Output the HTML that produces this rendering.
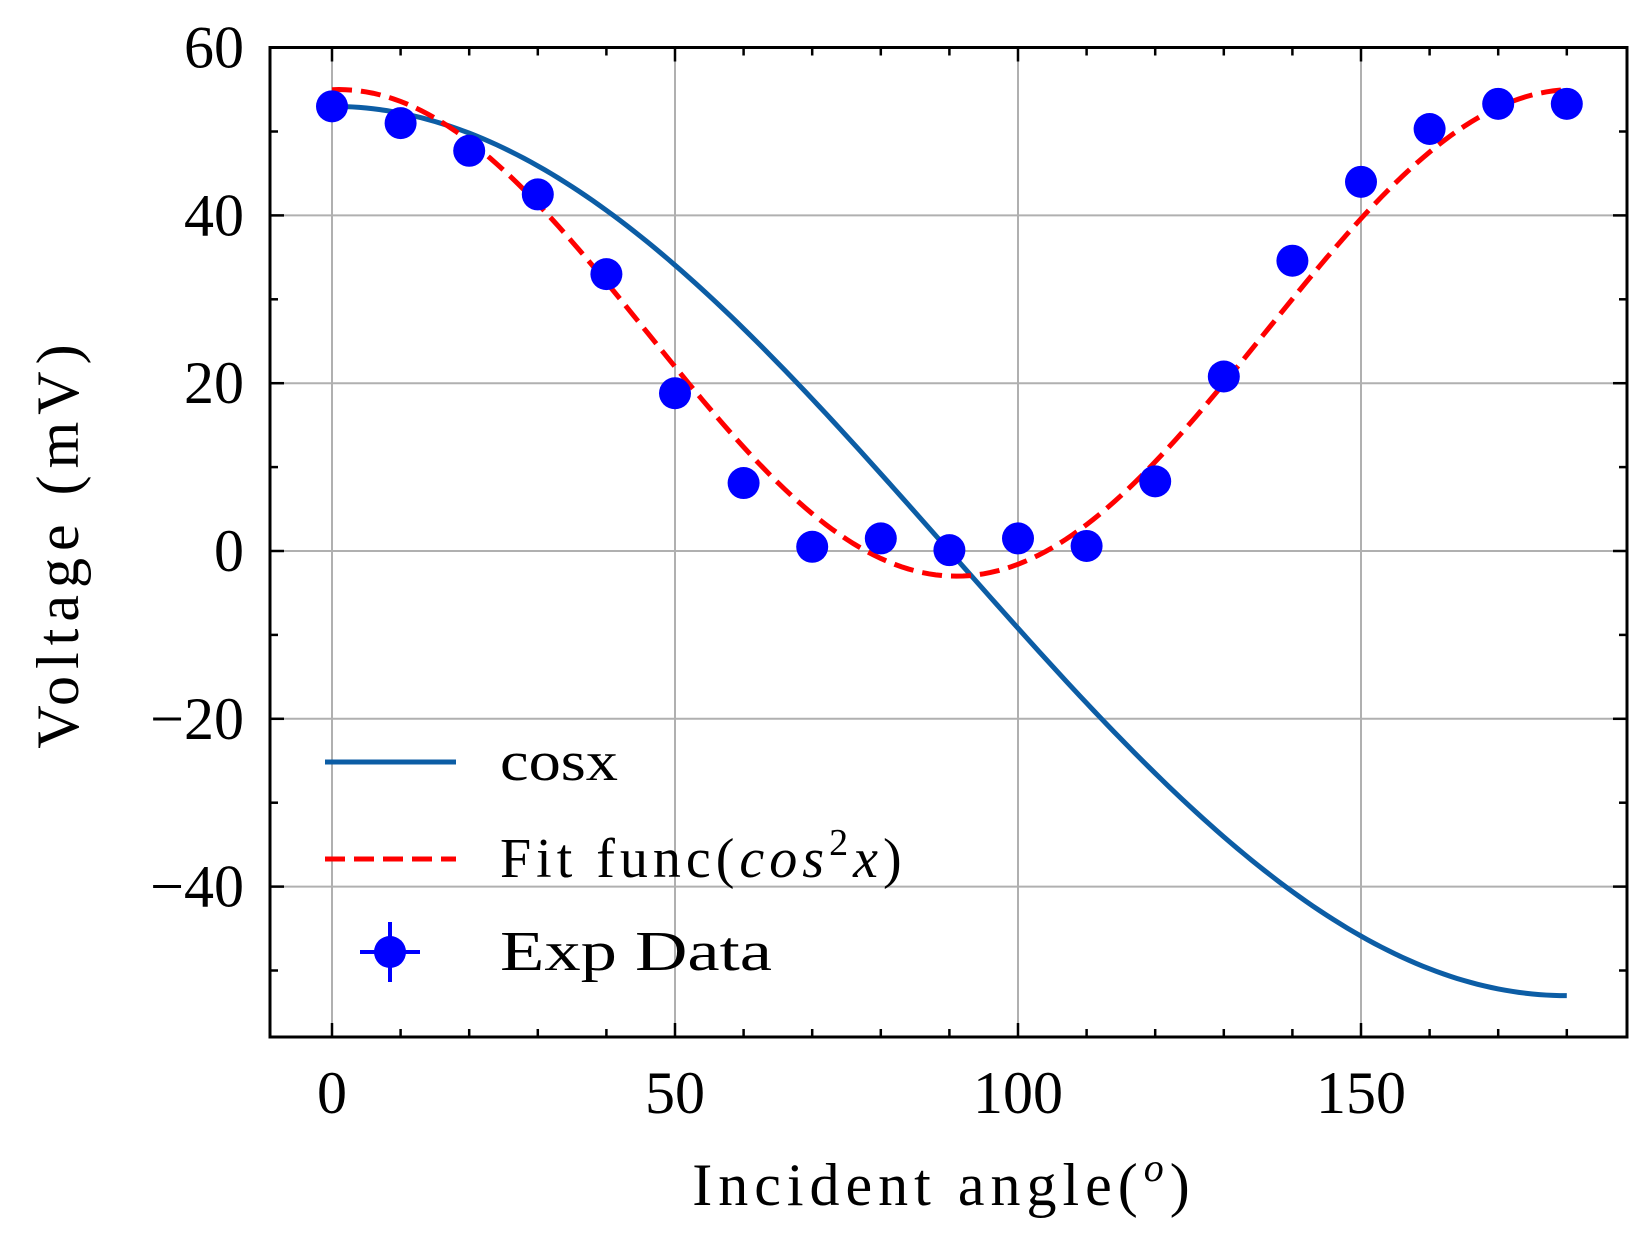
<!DOCTYPE html>
<html><head><meta charset="utf-8"><style>
html,body{margin:0;padding:0;background:#fff;}
svg text{font-family:"Liberation Serif","DejaVu Serif",serif;fill:#000;}
</style></head><body>
<svg id="chart" width="1650" height="1245" viewBox="0 0 1650 1245" xmlns="http://www.w3.org/2000/svg" style="position:absolute;left:0;top:0">
<g id="grid"></g>
<g id="series"></g>
<g id="axes"></g>
<g id="legend"></g>
<text x="500" y="780" font-size="56" textLength="118" lengthAdjust="spacingAndGlyphs">cosx</text>
<text x="500" y="877" font-size="56" letter-spacing="5">Fit func(<tspan font-style="italic">cos</tspan><tspan font-size="38" dy="-22">2</tspan><tspan font-style="italic" dy="22">x</tspan>)</text>
<text x="500" y="970" font-size="56" textLength="272" lengthAdjust="spacingAndGlyphs">Exp Data</text>
<text x="944" y="1205" font-size="60" text-anchor="middle" letter-spacing="6">Incident angle(<tspan font-style="italic" font-size="40" dy="-24">o</tspan><tspan dy="24">)</tspan></text>
<text transform="translate(78,543) rotate(-90)" font-size="60" text-anchor="middle" letter-spacing="7">Voltage (mV)</text>
</svg>
<script>
const angles = [0,10,20,30,40,50,60,70,80,90,100,110,120,130,140,150,160,170,180];
const voltages = [53,51,47.7,42.5,33,18.8,8.1,0.5,1.5,0.1,1.5,0.6,8.3,20.8,34.6,44,50.3,53.3,53.3];
const cosParams = [53, 0];
const fitParams = [58, 1, -3];
const xTicks = [0,50,100,150];
const yTicks = [-40,-20,0,20,40,60];
const xTickLabels = ["0","50","100","150"];
const yTickLabels = ["\u221240","\u221220","0","20","40","60"];

const L=270,R=1627,T=47.5,B=1037;
const X0=332,XS=6.86, Y0=551,YS=8.39;
const xs=v=>X0+v*XS, ys=v=>Y0-v*YS;
const NS="http://www.w3.org/2000/svg";
function mk(tag,attrs,parent){const e=document.createElementNS(NS,tag);for(const k in attrs)e.setAttribute(k,attrs[k]);parent.appendChild(e);return e;}
const grid=document.getElementById('grid'),axes=document.getElementById('axes'),series=document.getElementById('series'),legend=document.getElementById('legend');

xTicks.forEach((v,i)=>{
  const g=mk('line',{x1:xs(v),x2:xs(v),y1:T,y2:B,stroke:'#b0b0b0','stroke-width':2},grid);
  
  
  const t=mk('text',{x:xs(v),y:1113,'text-anchor':'middle','font-size':60},axes);
  t.textContent=xTickLabels[i];
  
  
});
yTicks.forEach((v,i)=>{
  const g=mk('line',{x1:L,x2:R,y1:ys(v),y2:ys(v),stroke:'#b0b0b0','stroke-width':2},grid);
  
  
  const t=mk('text',{x:244,y:ys(v)+20,'text-anchor':'end','font-size':60},axes);
  t.textContent=yTickLabels[i];
  
  
});
for(let v=-10;v<=190;v+=10){const x=xs(v);if(x<L||x>R)continue;const len=(v%50===0)?14:8;
  const a=mk('line',{x1:x,x2:x,y1:B,y2:B-len,stroke:'#000','stroke-width':2.5},axes);
  
  const b=mk('line',{x1:x,x2:x,y1:T,y2:T+len,stroke:'#000','stroke-width':2.5},axes);
  }
for(let v=-50;v<=60;v+=10){const y=ys(v);const len=(v%20===0)?14:8;
  const a=mk('line',{x1:L,x2:L+len,y1:y,y2:y,stroke:'#000','stroke-width':2.5},axes);
  
  const b=mk('line',{x1:R,x2:R-len,y1:y,y2:y,stroke:'#000','stroke-width':2.5},axes);
  }
const fr=mk('rect',{x:L,y:T,width:R-L,height:B-T,fill:'none',stroke:'#000','stroke-width':3},axes);


let pc=[],pf=[];
for(let a=0;a<=180;a+=1){const r=a*Math.PI/180;
  pc.push(xs(a)+','+ys(cosParams[0]*Math.cos(r)+cosParams[1]));
  const c=Math.cos((a-fitParams[1])*Math.PI/180);
  pf.push(xs(a)+','+ys(fitParams[0]*c*c+fitParams[2]));}
const cl=mk('polyline',{points:pc.join(' '),fill:'none',stroke:'#0c5da5','stroke-width':5},series);

const fl=mk('polyline',{points:pf.join(' '),fill:'none',stroke:'#ff0000','stroke-width':5,'stroke-dasharray':'20,9'},series);

angles.forEach((a,i)=>{
  const c=mk('circle',{cx:xs(a),cy:ys(voltages[i]),r:16,fill:'#0000ff'},series);
  
  
});

const l1=mk('line',{x1:325,x2:456,y1:762,y2:762,stroke:'#0c5da5','stroke-width':5},legend);

const l2=mk('line',{x1:325,x2:456,y1:859,y2:859,stroke:'#ff0000','stroke-width':5,'stroke-dasharray':'20,9'},legend);

const l3=mk('line',{x1:360,x2:420,y1:952,y2:952,stroke:'#0000ff','stroke-width':4},legend);

const l4=mk('line',{x1:390,x2:390,y1:922,y2:982,stroke:'#0000ff','stroke-width':4},legend);

const l5=mk('circle',{cx:390,cy:952,r:16,fill:'#0000ff'},legend);

</script>
</body></html>
